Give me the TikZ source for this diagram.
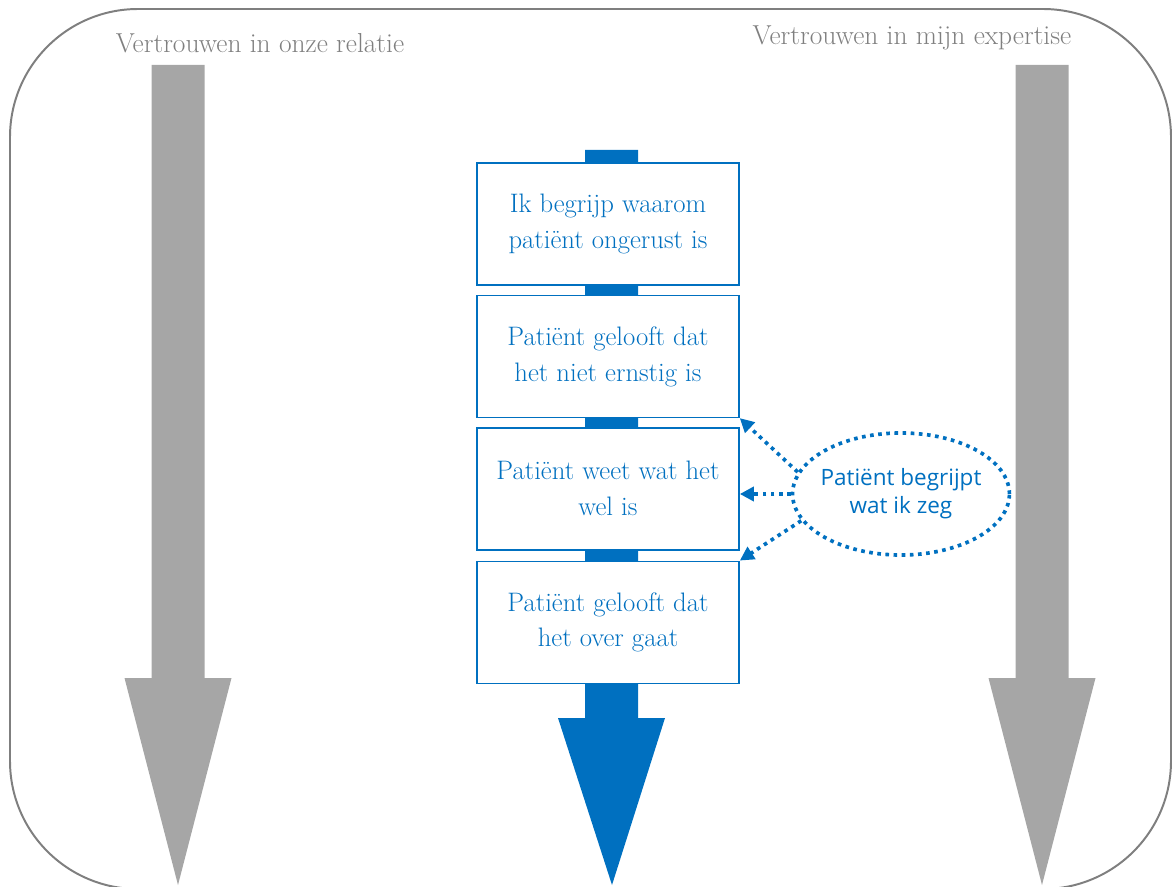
\documentclass[tikz,border=0pt]{standalone}
\usepackage{fontspec}
\setsansfont{Open Sans}
\usepackage{xcolor}
\usetikzlibrary{shapes.geometric, arrows.meta, positioning}

\definecolor{pblue}{HTML}{0070C0}
\definecolor{pgray}{HTML}{A6A6A6}
\definecolor{lgray}{HTML}{7F7F7F}

\tikzset{
  stepbox/.style={draw=pblue, line width=1.1pt, fill=white, text=pblue,
    minimum width=6.55cm, minimum height=3.05cm, align=center,
    font=\fontsize{19}{25.6}\selectfont},
  toplabel/.style={text=lgray, font=\fontsize{19.5}{22}\selectfont},
  dotline/.style={draw=pblue, line width=2.6pt, dash pattern=on 2.6pt off 3.2pt},
  dotarrow/.style={dotline, -{Triangle[length=10pt,width=10pt]}}
}

\begin{document}
\begin{tikzpicture}[x=0.025cm, y=-0.025cm]
\useasboundingbox (0,0) rectangle (1173,887);

% frame
\draw[lgray, line width=1.4pt, rounded corners=3.2cm] (10,9) rectangle (1171,889);

% gray arrows
\foreach \cx in {178,1042}
  \fill[pgray] (\cx-26.5,65) -- (\cx+26.5,65) -- (\cx+26.5,678) -- (\cx+53.5,678)
    -- (\cx,885) -- (\cx-53.5,678) -- (\cx-26.5,678) -- cycle;
\node[toplabel] (rel) at (260,43) {Vertrouwen in onze relatie};
\node[toplabel] (exp) at (912,38) {Vertrouwen in mijn expertise};

% blue arrow behind the steps
\fill[pblue] (585,150) -- (638,150) -- (638,718) -- (665,718) -- (612,885)
  -- (558,718) -- (585,718) -- cycle;

% steps
\node[stepbox] (b1) at (608,224) {Ik begrijp waarom\\patiënt ongerust is};
\node[stepbox, below=0.22cm of b1] (b2) {Patiënt gelooft dat\\het niet ernstig is};
\node[stepbox, below=0.22cm of b2] (b3) {Patiënt weet wat het\\wel is};
\node[stepbox, below=0.25cm of b3] (b4) {Patiënt gelooft dat\\het over gaat};

% understanding
\node[ellipse, dotline, minimum width=5.42cm, minimum height=3.05cm,
  inner xsep=-5pt, inner ysep=0pt,
  align=center, text=pblue, font=\sffamily\fontsize{16}{20}\selectfont]
  (ell) at (901,494) {Patiënt begrijpt\\wat ik zeg};
\draw[dotarrow] (ell.168) -- (b2.south east);
\draw[dotarrow] (ell.west) -- (b3.east |- ell.west);
\draw[dotarrow] (ell.195) -- (b4.north east);
\end{tikzpicture}
\end{document}
